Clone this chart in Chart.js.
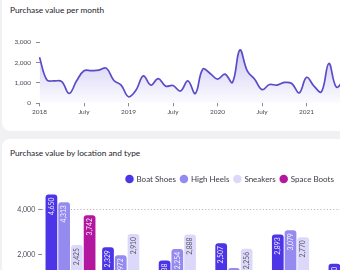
<!DOCTYPE html>
<html>
<head>
<meta charset="utf-8">
<script src="https://cdn.jsdelivr.net/npm/chart.js@4.4.1/dist/chart.umd.min.js"></script>
<style>
  html, body { margin: 0; padding: 0; }
  body {
    width: 340px; height: 270px; overflow: hidden; position: relative;
    background: #f1f1f4; font-family: Lato, sans-serif;
  }
  .card { position: absolute; left: 2px; width: 520px; background: #fff; border-radius: 8px; }
  #card1 { top: -10px; height: 141px; }
  #card2 { top: 139px; height: 200px; }
  .title { position: absolute; left: 8px; font-size: 8.3px; line-height: 11px; color: #24242c; white-space: nowrap; }
  #title1 { top: 14.5px; }
  #title2 { top: 8.5px; }
  .box { position: absolute; left: 0; }
  #box1 { top: 30px; width: 350px; height: 86px; }
  #box2 { top: 170px; width: 461px; height: 148px; }
</style>
</head>
<body>
<div class="card" id="card1"><div class="title" id="title1">Purchase value per month</div></div>
<div class="card" id="card2"><div class="title" id="title2">Purchase value by location and type</div></div>
<div class="box" id="box1"><canvas id="monthChart"></canvas></div>
<div class="box" id="box2"><canvas id="typeChart"></canvas></div>
<script>
// --- purchase value per month (Jan 2018 ..) ---
const months = [
  'Jan 2018', 'Feb 2018', 'Mar 2018', 'Apr 2018', 'May 2018', 'Jun 2018', 'Jul 2018', 'Aug 2018', 'Sep 2018', 'Oct 2018', 'Nov 2018', 'Dec 2018',
  'Jan 2019', 'Feb 2019', 'Mar 2019', 'Apr 2019', 'May 2019', 'Jun 2019', 'Jul 2019', 'Aug 2019', 'Sep 2019', 'Oct 2019', 'Nov 2019', 'Dec 2019',
  'Jan 2020', 'Feb 2020', 'Mar 2020', 'Apr 2020', 'May 2020', 'Jun 2020', 'Jul 2020', 'Aug 2020', 'Sep 2020', 'Oct 2020', 'Nov 2020', 'Dec 2020',
  'Jan 2021', 'Feb 2021', 'Mar 2021', 'Apr 2021', 'May 2021', 'Jun 2021'
];
const monthValues = [
  2250, 1140, 1100, 1060, 480, 1100, 1590, 1600, 1620, 1720, 1130, 890,
  320, 640, 1340, 890, 1210, 840, 870, 600, 1100, 480, 1670, 1460,
  1180, 1430, 1020, 2610, 1590, 1180, 670, 920, 890, 1020, 970, 510,
  1270, 840, 560, 1950, 800, 1100
];
const monthTickLabels = ['2018', 'July', '2019', 'July', '2020', 'July', '2021'];
const monthTicks = [0, 1000, 2000, 3000];

// --- purchase value by location and type ---
const locations = ['Amsterdam', 'Berlin', 'London', 'Madrid', 'New York', 'Paris', 'Tokyo'];
const boatShoes  = [4650, 2329, 1738, 2507, 2893, 1600, 2120];
const highHeels  = [4313, 1972, 2254, 1410, 3079, 1280, 1850];
const sneakers   = [2425, 2910, 2888, 2256, 2770, 1190, 2340];
const spaceBoots = [3742, 1150, 980, 1240, 1050, 870, 1320];
const typeTicks = [0, 2000, 4000];
const targetValue = 4000;

Chart.defaults.font.family = 'Lato, sans-serif';
Chart.defaults.color = '#4a4a55';

const lineColor = '#5a4cc9';

function fixedTicks(values) {
  return function(scale) { scale.ticks = values.map(function(v) { return { value: v }; }); };
}

new Chart(document.getElementById('monthChart'), {
  type: 'line',
  data: {
    labels: months,
    datasets: [{
      data: monthValues,
      borderColor: lineColor,
      borderWidth: 1.7,
      pointRadius: 0,
      tension: 0.4,
      fill: 'origin',
      backgroundColor: function(context) {
        const chart = context.chart;
        if (!chart.chartArea) return 'rgba(95,80,215,0.15)';
        const g = chart.ctx.createLinearGradient(0, chart.chartArea.top, 0, chart.chartArea.bottom);
        g.addColorStop(0, 'rgba(95,80,215,0.34)');
        g.addColorStop(1, 'rgba(95,80,215,0.02)');
        return g;
      }
    }]
  },
  options: {
    responsive: true,
    maintainAspectRatio: false,
    animation: false,
    layout: { padding: { top: 12, right: 6.3, left: 0, bottom: 0 } },
    plugins: { legend: { display: false }, tooltip: { enabled: false } },
    scales: {
      x: {
        grid: { drawOnChartArea: false, tickLength: 3, color: '#8a8a94' },
        border: { display: false },
        ticks: {
          autoSkip: false, maxRotation: 0, padding: 2,
          font: { size: 6.5 },
          callback: function(val, i) { return i % 6 === 0 ? monthTickLabels[i / 6] : null; }
        },
        afterFit: function(s) { s.height = 12.7; }
      },
      y: {
        min: monthTicks[0],
        max: monthTicks[monthTicks.length - 1],
        grid: { drawOnChartArea: false, tickLength: 3.5, color: '#8a8a94' },
        border: { display: false },
        ticks: { padding: 5, font: { size: 6.5 } },
        afterBuildTicks: fixedTicks(monthTicks),
        afterFit: function(s) { s.width = 39.5; }
      }
    }
  }
});

// value labels written vertically inside the top of each bar
const barValueLabels = {
  id: 'barValueLabels',
  afterDatasetsDraw(chart) {
    const ctx = chart.ctx;
    const a = chart.chartArea;
    ctx.save();
    ctx.beginPath();
    ctx.rect(a.left, a.top, a.right - a.left, a.bottom - a.top);
    ctx.clip();
    ctx.font = '6.8px Lato, sans-serif';
    ctx.textAlign = 'right';
    ctx.textBaseline = 'middle';
    chart.data.datasets.forEach(function(ds, i) {
      const meta = chart.getDatasetMeta(i);
      meta.data.forEach(function(bar, j) {
        ctx.save();
        ctx.translate(bar.x, bar.y + 3);
        ctx.rotate(-Math.PI / 2);
        ctx.fillStyle = ds.labelColor;
        ctx.fillText(ds.data[j].toLocaleString('en-US'), 0, 0);
        ctx.restore();
      });
    });
    ctx.restore();
  }
};

// nudge the legend row sideways (the card is wider than the view)
const legendShift = {
  id: 'legendShift',
  afterLayout(chart, args, opts) {
    chart.legend.left += opts.dx;
    chart.legend.right += opts.dx;
  }
};

function barSet(label, values, color, labelColor) {
  return {
    label: label,
    data: values,
    backgroundColor: color,
    borderRadius: { topLeft: 3, topRight: 3 },
    borderSkipped: 'bottom',
    categoryPercentage: 0.9,
    barPercentage: 0.92,
    labelColor: labelColor
  };
}

new Chart(document.getElementById('typeChart'), {
  type: 'bar',
  data: {
    labels: locations,
    datasets: [
      barSet('Boat Shoes', boatShoes, '#4b35e6', 'rgba(255,255,255,0.92)'),
      barSet('High Heels', highHeels, '#948aef', 'rgba(255,255,255,0.92)'),
      barSet('Sneakers', sneakers, '#dcd8fa', '#5a5a66'),
      barSet('Space Boots', spaceBoots, '#b3169f', 'rgba(255,255,255,0.92)')
    ]
  },
  options: {
    responsive: true,
    maintainAspectRatio: false,
    animation: false,
    layout: { padding: { top: 0, right: 22.6, left: 0, bottom: 0 } },
    plugins: {
      tooltip: { enabled: false },
      legendShift: { dx: 11 },
      legend: {
        position: 'top',
        align: 'center',
        labels: {
          usePointStyle: true,
          pointStyle: 'circle',
          boxHeight: 6,
          boxWidth: 6,
          padding: 5,
          color: '#3a3a44',
          font: { size: 8 }
        }
      }
    },
    scales: {
      x: {
        grid: { display: false },
        border: { display: false },
        ticks: { font: { size: 7 } },
        afterFit: function(s) { s.height = 18; }
      },
      y: {
        min: 0,
        max: 4720,
        border: { display: false, dash: [1.2, 2] },
        grid: {
          tickLength: 4,
          tickColor: '#8a8a94',
          color: function(c) { return c.tick && c.tick.value === targetValue ? '#b8b8c0' : 'rgba(0,0,0,0)'; }
        },
        ticks: { padding: 3, font: { size: 7 } },
        afterBuildTicks: fixedTicks(typeTicks),
        afterFit: function(s) { s.width = 42.2; }
      }
    }
  },
  plugins: [barValueLabels, legendShift]
});
</script>
</body>
</html>
